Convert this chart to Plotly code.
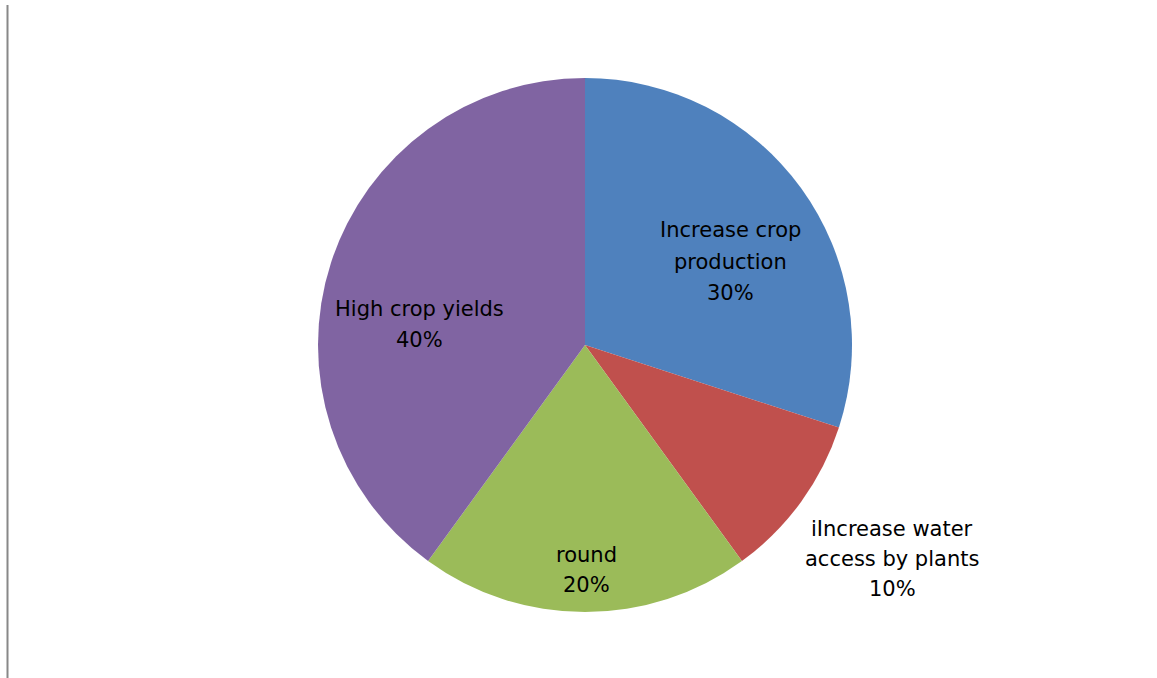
import plotly.graph_objects as go

labels = ["Increase crop production", "iIncrease water access by plants", "round", "High crop yields"]
label_lines = [["Increase crop", "production"], ["iIncrease water", "access by plants"], ["round"], ["High crop yields"]]
values = [30, 10, 20, 40]
colors = ["#4F81BD", "#C0504D", "#9BBB59", "#8064A2"]

# label block: centre x, first-line y, line gap (pixels) -- layout only
label_pos = [(730, 229, 31.5), (892, 528, 30), (586, 554, 30), (419, 308, 31.5)]

W, H = 1157, 678
cx, cy, r = 585, 345, 267

fig = go.Figure(go.Pie(
    labels=labels,
    values=values,
    textinfo="none",
    marker=dict(colors=colors, line=dict(width=0)),
    sort=False,
    direction="clockwise",
    rotation=0,
    showlegend=False,
    hoverinfo="label+percent",
    domain=dict(x=[(cx - r) / W, (cx + r) / W], y=[(H - cy - r) / H, (H - cy + r) / H]),
))

total = sum(values)
for lines, v, (px, py, gap) in zip(label_lines, values, label_pos):
    all_lines = lines + [f"{round(100 * v / total)}%"]
    for i, ln in enumerate(all_lines):
        fig.add_annotation(
            xref="paper", yref="paper",
            x=px / W, y=1 - (py + i * gap + 1) / H,
            xanchor="center", yanchor="middle",
            text=ln,
            showarrow=False,
            font=dict(family="DejaVu Sans", size=21, color="black"),
        )

fig.add_shape(type="line", xref="paper", yref="paper",
              x0=7.5 / W, x1=7.5 / W, y0=0, y1=1 - 5 / H,
              line=dict(color="#888888", width=2))

fig.update_layout(
    width=W, height=H,
    margin=dict(l=0, r=0, t=0, b=0),
    paper_bgcolor="white", plot_bgcolor="white",
)

fig.write_html("out.html")
